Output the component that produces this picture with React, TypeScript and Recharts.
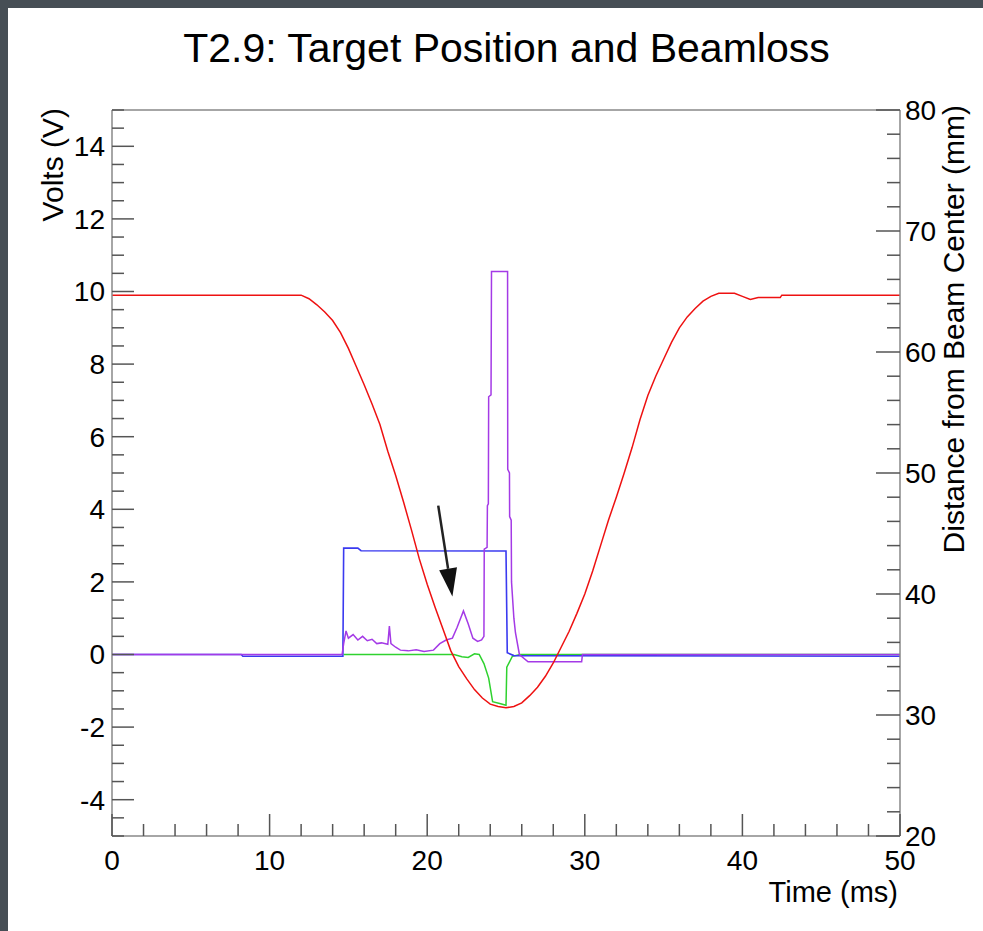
import { Label, Line, LineChart, ReferenceLine, XAxis, YAxis } from 'recharts';

// Tick values for the three axes
const timeTicks = [0, 2, 4, 6, 8, 10, 12, 14, 16, 18, 20, 22, 24, 26, 28, 30, 32, 34, 36, 38, 40, 42, 44, 46, 48, 50];
const voltTicks = [
  -5, -4.5, -4, -3.5, -3, -2.5, -2, -1.5, -1, -0.5, 0, 0.5, 1, 1.5, 2, 2.5, 3, 3.5, 4, 4.5, 5,
  5.5, 6, 6.5, 7, 7.5, 8, 8.5, 9, 9.5, 10, 10.5, 11, 11.5, 12, 12.5, 13, 13.5, 14, 14.5, 15,
];
const mmTicks = [20, 22, 24, 26, 28, 30, 32, 34, 36, 38, 40, 42, 44, 46, 48, 50, 52, 54, 56, 58, 60, 62, 64, 66, 68, 70, 72, 74, 76, 78, 80];

// Target position (mm, right axis)
const redTimes = [
  0, 12, 12.5, 13, 13.5, 14, 14.5, 15, 15.5, 16, 16.5, 17, 17.5, 18, 18.5, 19, 19.5, 20, 20.5, 21, 21.5,
  22, 22.5, 23, 23.5, 24, 24.5, 25, 25.5, 26, 26.5, 27, 27.5, 28, 28.5, 29, 29.5, 30, 30.5, 31, 31.5,
  32, 32.5, 33, 33.5, 34, 34.5, 35, 35.5, 36, 36.5, 37, 37.5, 38, 38.5, 39.5, 40, 40.5, 41, 42.4, 42.5, 50,
];
const redMm = [
  64.7, 64.7, 64.4, 63.9, 63.3, 62.6, 61.6, 60.3, 58.8, 57.3, 55.7, 54.0, 51.8, 49.8, 47.6, 45.3, 42.9, 40.8, 38.9, 37.1, 35.3,
  34.0, 33.0, 32.1, 31.4, 30.9, 30.7, 30.6, 30.7, 31.0, 31.6, 32.3, 33.2, 34.3, 35.6, 36.9, 38.4, 40.0, 41.9, 44.0, 46.1,
  48.0, 50.0, 52.1, 54.4, 56.4, 58.0, 59.4, 60.8, 62.0, 62.9, 63.6, 64.2, 64.6, 64.85, 64.85, 64.6, 64.35, 64.5, 64.5, 64.7, 64.7,
];

// Beam signal (V)
const blueTimes = [0, 8.2, 8.3, 14.65, 14.7, 15.6, 15.8, 25.0, 25.08, 25.5, 50];
const blueVolts = [0, 0, -0.05, -0.05, 2.93, 2.93, 2.86, 2.85, 0.05, -0.03, -0.05];

// Beam loss monitor (V)
const purpleTimes = [
  0, 14.6, 14.7, 14.85, 15.0, 15.3, 15.6, 15.9, 16.2, 16.5, 16.8, 17.1, 17.5, 17.6, 17.7, 18.0, 18.3, 18.8,
  19.3, 19.8, 20.4, 20.8, 21.2, 21.6, 21.9, 22.3, 22.6, 22.9, 23.2, 23.45, 23.6, 23.62, 23.8, 23.82, 23.88, 23.9,
  24.05, 24.08, 25.1, 25.11, 25.22, 25.23, 25.33, 25.35, 25.5, 25.6, 25.85, 26.4, 29.8, 29.85, 50,
];
const purpleVolts = [
  0, 0, 0.3, 0.65, 0.45, 0.55, 0.4, 0.5, 0.38, 0.42, 0.3, 0.32, 0.28, 0.78, 0.3, 0.2, 0.12, 0.1,
  0.13, 0.08, 0.12, 0.3, 0.4, 0.45, 0.75, 1.2, 0.85, 0.45, 0.36, 0.4, 0.5, 2.9, 2.95, 4.1, 4.15, 7.1,
  7.15, 10.55, 10.55, 5.1, 5.0, 3.8, 3.7, 2.0, 1.0, 0.6, 0.0, -0.2, -0.2, 0, 0,
];

// Second loss channel (V)
const greenTimes = [14.7, 21.7, 22.2, 22.6, 23.0, 23.3, 23.6, 23.9, 24.15, 24.6, 25.0, 25.05, 25.4, 25.9, 50];
const greenVolts = [0, 0, -0.06, -0.08, 0.02, 0, -0.25, -0.65, -1.3, -1.35, -1.4, -0.35, -0.05, 0, 0];

// Annotation arrow (time, volts)
const arrowTimes = [20.7, 21.6];
const arrowVolts = [4.1, 1.6];

const zip = (ts: number[], vs: number[]) => ts.map((t, i) => ({ t, y: vs[i] }));

const FONT = '"Liberation Sans", Arial, Helvetica, sans-serif';
const TICK_COLOR = '#555';
const FRAME_COLOR = '#888';
const LEFT_GAP = 7;
const RIGHT_GAP = 5;
const BOTTOM_GAP = 14;

const isMult = (v: number, m: number) => Math.abs(v / m - Math.round(v / m)) < 1e-6;

const LeftTick = ({ x, y, payload }: any) => {
  const v = payload.value;
  const major = isMult(v, 2);
  const ax = x + LEFT_GAP;
  return (
    <g>
      <line x1={ax} x2={ax + (major ? 22 : 12)} y1={y} y2={y} stroke={TICK_COLOR} strokeWidth={1.5} />
      {major && (
        <text x={x} y={y} dy="0.35em" textAnchor="end" fontSize={28} fill="#000">
          {v}
        </text>
      )}
    </g>
  );
};

const RightTick = ({ x, y, payload }: any) => {
  const v = payload.value;
  const major = isMult(v, 10);
  const ax = x - RIGHT_GAP;
  return (
    <g>
      <line x1={ax} x2={ax - (major ? 24 : 13)} y1={y} y2={y} stroke={TICK_COLOR} strokeWidth={1.5} />
      {major && (
        <text x={x} y={y} dy="0.35em" textAnchor="start" fontSize={28} fill="#000">
          {v}
        </text>
      )}
    </g>
  );
};

const BottomTick = ({ x, y, payload }: any) => {
  const v = payload.value;
  const major = isMult(v, 10);
  const ay = y - BOTTOM_GAP;
  return (
    <g>
      <line x1={x} x2={x} y1={ay} y2={ay - (major ? 22 : 12)} stroke={TICK_COLOR} strokeWidth={1.5} />
      {major && (
        <text x={x} y={y} dy="0.71em" textAnchor="middle" fontSize={28} fill="#000">
          {v}
        </text>
      )}
    </g>
  );
};

const VoltsLabel = ({ viewBox }: any) => {
  const px = viewBox.x + viewBox.width - 49;
  const py = viewBox.y - 2;
  return (
    <text x={px} y={py} transform={`rotate(-90 ${px} ${py})`} textAnchor="end" fontSize={30} fill="#000">
      Volts (V)
    </text>
  );
};

const DistanceLabel = ({ viewBox }: any) => {
  const px = viewBox.x + 64;
  const py = viewBox.y - 5;
  return (
    <text x={px} y={py} transform={`rotate(-90 ${px} ${py})`} textAnchor="end" fontSize={30} fill="#000">
      Distance from Beam Center (mm)
    </text>
  );
};

const TimeLabel = ({ viewBox }: any) => {
  const px = viewBox.x + viewBox.width - 2;
  const py = viewBox.y + 66;
  return (
    <text x={px} y={py} textAnchor="end" fontSize={29} fill="#000">
      Time (ms)
    </text>
  );
};

const ArrowShape = (props: any) => {
  const { x1, y1, x2, y2 } = props;
  const dx = x2 - x1;
  const dy = y2 - y1;
  const len = Math.hypot(dx, dy) || 1;
  const ux = dx / len;
  const uy = dy / len;
  const headLen = 28;
  const headHalf = 9;
  const bx = x2 - ux * headLen;
  const by = y2 - uy * headLen;
  const nx = -uy;
  const ny = ux;
  return (
    <g>
      <line x1={x1} y1={y1} x2={bx} y2={by} stroke="#222" strokeWidth={2.5} />
      <polygon
        points={`${x2},${y2} ${bx + nx * headHalf},${by + ny * headHalf} ${bx - nx * headHalf},${by - ny * headHalf}`}
        fill="#111"
      />
    </g>
  );
};

export default function App() {
  const redData = zip(redTimes, redMm);
  const blueData = zip(blueTimes, blueVolts);
  const purpleData = zip(purpleTimes, purpleVolts);
  const greenData = zip(greenTimes, greenVolts);

  return (
    <div
      style={{
        position: 'absolute',
        left: 0,
        top: 0,
        width: 983,
        height: 931,
        background: '#464e55',
        fontFamily: FONT,
      }}
    >
      <div style={{ position: 'absolute', left: 8, top: 8, width: 975, height: 923, background: '#fff' }} />
      <div
        style={{
          position: 'absolute',
          left: 15,
          top: 28,
          width: 983,
          textAlign: 'center',
          fontSize: 41,
          lineHeight: '40px',
          color: '#000',
          whiteSpace: 'nowrap',
        }}
      >
        T2.9: Target Position and Beamloss
      </div>
      <div style={{ position: 'absolute', left: 0, top: 0 }}>
        <LineChart width={983} height={931} margin={{ top: 110, right: 82, bottom: 94, left: 111 }}>
          <XAxis
            dataKey="t"
            type="number"
            domain={[0, 50]}
            ticks={timeTicks}
            interval={0}
            height={1}
            tickSize={0}
            tickMargin={BOTTOM_GAP}
            tick={<BottomTick />}
            tickLine={false}
            axisLine={{ stroke: FRAME_COLOR, strokeWidth: 1.5 }}
            allowDataOverflow
          >
            <Label content={<TimeLabel />} />
          </XAxis>
          <YAxis
            yAxisId="v"
            orientation="left"
            type="number"
            domain={[-5, 15]}
            ticks={voltTicks}
            interval={0}
            width={1}
            tickSize={0}
            tickMargin={LEFT_GAP}
            tick={<LeftTick />}
            tickLine={false}
            axisLine={{ stroke: FRAME_COLOR, strokeWidth: 1.5 }}
            allowDataOverflow
          >
            <Label content={<VoltsLabel />} />
          </YAxis>
          <YAxis
            yAxisId="mm"
            orientation="right"
            type="number"
            domain={[20, 80]}
            ticks={mmTicks}
            interval={0}
            width={1}
            tickSize={0}
            tickMargin={RIGHT_GAP}
            tick={<RightTick />}
            tickLine={false}
            axisLine={{ stroke: FRAME_COLOR, strokeWidth: 1.5 }}
            allowDataOverflow
          >
            <Label content={<DistanceLabel />} />
          </YAxis>

          <ReferenceLine yAxisId="v" y={15} stroke={FRAME_COLOR} strokeWidth={1.5} />

          <Line yAxisId="v" data={greenData} dataKey="y" type="linear" stroke="#2fd22f" strokeWidth={1.5} dot={false} isAnimationActive={false} />
          <Line yAxisId="v" data={blueData} dataKey="y" type="linear" stroke="#3a3af0" strokeWidth={1.6} dot={false} isAnimationActive={false} />
          <Line yAxisId="v" data={purpleData} dataKey="y" type="linear" stroke="#a43ae6" strokeWidth={1.5} dot={false} isAnimationActive={false} />
          <Line yAxisId="mm" data={redData} dataKey="y" type="linear" stroke="#ee1111" strokeWidth={1.5} dot={false} isAnimationActive={false} />

          <ReferenceLine
            yAxisId="v"
            segment={[
              { x: arrowTimes[0], y: arrowVolts[0] },
              { x: arrowTimes[1], y: arrowVolts[1] },
            ]}
            shape={ArrowShape}
            ifOverflow="visible"
          />
        </LineChart>
      </div>
    </div>
  );
}
